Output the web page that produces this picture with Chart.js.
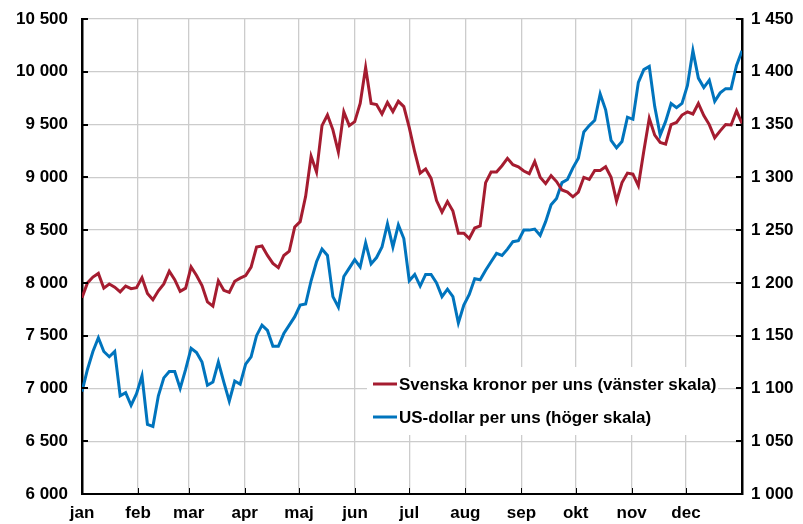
<!DOCTYPE html>
<html>
<head>
<meta charset="utf-8">
<script src="https://cdn.jsdelivr.net/npm/chart.js@4"></script>
<style>
  html, body { margin: 0; padding: 0; background: #fff; }
  #wrap { width: 803px; height: 524px; }
</style>
</head>
<body>
<div id="wrap"><canvas id="goldChart" width="803" height="524"></canvas></div>
<script>
const months = ["jan", "feb", "mar", "apr", "maj", "jun", "jul", "aug", "sep", "okt", "nov", "dec"];
const monthStart = [0, 31, 59, 90, 120, 151, 181, 212, 243, 273, 304, 334];

// guldpris, ungefär var tredje dag över året
const sekPerOunce = [
  7860, 8000, 8055, 8090, 7950, 7990, 7960, 7915, 7970, 7945,
  7955, 8050, 7900, 7840, 7925, 7990, 8110, 8030, 7920, 7950,
  8150, 8070, 7975, 7820, 7780, 8020, 7930, 7910, 8015, 8045,
  8070, 8150, 8340, 8350, 8260, 8185, 8145, 8260, 8300, 8530,
  8580, 8820, 9200, 9050, 9490, 9590, 9450, 9240, 9620, 9490,
  9528, 9700, 10040, 9700, 9690, 9600, 9710, 9623, 9720, 9670,
  9470, 9240, 9040, 9080, 8990, 8780, 8670, 8770, 8680, 8470,
  8470, 8420, 8520, 8540, 8950, 9050, 9050, 9110, 9180, 9120,
  9100, 9060, 9035, 9150, 9000, 8940, 9015, 8960, 8880, 8860,
  8815, 8860, 9000, 8980, 9065, 9065, 9100, 9000, 8775, 8950,
  9040, 9030, 8920, 9250, 9560, 9400, 9330, 9315, 9500, 9520,
  9590, 9620, 9600, 9700, 9585, 9500, 9375, 9440, 9500, 9496,
  9630, 9510
];
const usdPerOunce = [
  1097, 1118, 1135, 1148, 1135, 1130, 1135, 1093, 1096, 1084,
  1095, 1112, 1066, 1064, 1093, 1110, 1116, 1116, 1100, 1118,
  1138, 1134, 1125, 1103, 1106, 1125, 1106, 1088, 1107, 1104,
  1123, 1130, 1150, 1160, 1155, 1140, 1140, 1152, 1160, 1168,
  1179, 1180, 1202, 1220, 1232, 1226, 1187, 1177, 1206, 1214,
  1222, 1215, 1238, 1218, 1224, 1234, 1256, 1234, 1255, 1242,
  1202, 1208, 1197, 1208, 1208, 1200, 1187, 1194, 1187, 1162,
  1179, 1189, 1204, 1203, 1212, 1220, 1228, 1226, 1232, 1239,
  1240, 1250, 1250, 1251, 1245, 1258, 1274, 1280, 1295, 1298,
  1309, 1318, 1343, 1349, 1354, 1379, 1364, 1335, 1328, 1334,
  1357, 1355, 1390, 1402, 1405, 1367, 1340, 1353, 1370, 1366,
  1370, 1387, 1420, 1394, 1385, 1392, 1372, 1380, 1384, 1384,
  1406, 1420
];

const RED = "#A51C30";
const BLUE = "#0074BD";
const FONT = { family: "'Liberation Sans Narrow', 'Arial Narrow', 'Liberation Sans', Arial, sans-serif", size: 17, weight: "bold" };

const dayOf = i => i * 365 / (sekPerOunce.length - 1);
const toPoints = arr => arr.map((v, i) => ({ x: dayOf(i), y: v }));
const spaced = v => String(v).replace(/\B(?=(\d{3})+(?!\d))/g, " ");

// låt layoutens padding styra diagramytans över- och underkant
function fitSide(width) {
  return s => { s.width = width; s.paddingTop = 8; s.paddingBottom = 0; };
}

// små svarta streck på insidan av axlarna
const innerTicks = {
  id: "innerTicks",
  afterDraw(chart) {
    const { ctx, chartArea: a, scales } = chart;
    ctx.save();
    ctx.strokeStyle = "#000";
    ctx.lineWidth = 2;
    ctx.beginPath();
    scales.y.ticks.forEach(t => {
      const py = Math.round(scales.y.getPixelForValue(t.value));
      ctx.moveTo(a.left, py); ctx.lineTo(a.left + 6, py);
    });
    scales.y2.ticks.forEach(t => {
      const py = Math.round(scales.y2.getPixelForValue(t.value));
      ctx.moveTo(a.right - 6, py); ctx.lineTo(a.right, py);
    });
    ctx.stroke();
    ctx.lineWidth = 1;
    ctx.beginPath();
    scales.x.ticks.forEach(t => {
      const px = Math.round(scales.x.getPixelForValue(t.value)) + 0.5;
      ctx.moveTo(px, a.bottom); ctx.lineTo(px, a.bottom - 6);
    });
    ctx.stroke();
    ctx.restore();
  }
};

// legend inne i diagrammet, med vit bakgrund
const boxLegend = {
  id: "boxLegend",
  afterDraw(chart) {
    const { ctx, chartArea: a } = chart;
    const x0 = a.left + 285, y0 = a.top + 348;
    ctx.save();
    ctx.fillStyle = "#fff";
    ctx.fillRect(x0, y0, 351, 68);
    ctx.font = `${FONT.weight} ${FONT.size}px ${FONT.family}`;
    ctx.textBaseline = "middle";
    ctx.fillStyle = "#000";
    chart.data.datasets.forEach((ds, i) => {
      const cy = y0 + 17 + i * 33;
      ctx.strokeStyle = ds.borderColor;
      ctx.lineWidth = 3;
      ctx.beginPath();
      ctx.moveTo(x0 + 6, cy); ctx.lineTo(x0 + 30, cy);
      ctx.stroke();
      ctx.fillText(ds.label, x0 + 32, cy + 1);
    });
    ctx.restore();
  }
};

function buildChart() {
  const ctx = document.getElementById("goldChart").getContext("2d");
  return new Chart(ctx, {
    type: "line",
    data: {
      datasets: [
        { label: "Svenska kronor per uns (vänster skala)", data: toPoints(sekPerOunce), yAxisID: "y",
          borderColor: RED, borderWidth: 3, pointRadius: 0, tension: 0 },
        { label: "US-dollar per uns (höger skala)", data: toPoints(usdPerOunce), yAxisID: "y2",
          borderColor: BLUE, borderWidth: 3, pointRadius: 0, tension: 0 }
      ]
    },
    options: {
      responsive: false,
      animation: false,
      layout: { padding: { top: 19, left: 0, right: 0, bottom: 0 } },
      plugins: { legend: { display: false }, tooltip: { enabled: false } },
      scales: {
        x: {
          type: "linear", min: 0, max: 365,
          afterBuildTicks: s => { s.ticks = monthStart.map(v => ({ value: v })); },
          afterFit: s => { s.height = 30; },
          ticks: { callback: (v, i) => months[i], font: FONT, color: "#000", padding: 9, maxRotation: 0, autoSkip: false },
          grid: { color: "#cccccc", lineWidth: 1.3, drawTicks: false },
          border: { color: "#000", width: 2 }
        },
        y: {
          position: "left", min: 6000, max: 10500,
          afterFit: fitSide(82),
          ticks: { stepSize: 500, callback: v => spaced(v), font: FONT, color: "#000", padding: 14 },
          grid: { color: "#cccccc", lineWidth: 1.3, drawTicks: false },
          border: { color: "#000", width: 2.5 }
        },
        y2: {
          position: "right", min: 1000, max: 1450,
          afterFit: fitSide(61),
          ticks: { stepSize: 50, callback: v => spaced(v), font: FONT, color: "#000", padding: 9 },
          grid: { drawOnChartArea: false, drawTicks: false },
          border: { color: "#000", width: 2.5 }
        }
      }
    },
    plugins: [innerTicks, boxLegend]
  });
}

document.addEventListener("DOMContentLoaded", buildChart);
</script>
</body>
</html>
